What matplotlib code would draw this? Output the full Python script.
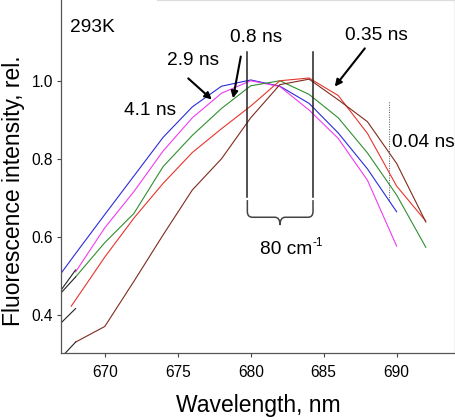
import matplotlib
matplotlib.use("Agg")
import matplotlib.pyplot as plt
from matplotlib.path import Path
from matplotlib.patches import PathPatch

plt.rcParams['font.family'] = ['Liberation Sans', 'DejaVu Sans']

# ---- data ----
wl_blue = [667, 668, 670, 672, 674, 676, 678, 680, 682, 684, 686, 688, 690]
i_blue = [0.506, 0.557, 0.657, 0.756, 0.855, 0.933, 0.986, 1.002, 0.986, 0.942, 0.866, 0.774, 0.664]

wl_mag = [668, 670, 672, 674, 676, 678, 680, 682, 684, 686, 688, 690]
i_mag = [0.510, 0.623, 0.716, 0.820, 0.905, 0.968, 1.000, 0.985, 0.925, 0.852, 0.745, 0.576]

wl_green = [668, 670, 672, 674, 676, 678, 680, 682, 684, 686, 688, 690, 692]
i_green = [0.497, 0.585, 0.660, 0.780, 0.860, 0.929, 0.987, 1.000, 0.965, 0.905, 0.815, 0.707, 0.573]

wl_red = [667.7, 669, 670, 672, 674, 676, 678, 680, 682, 684, 686, 688, 690, 692]
i_red = [0.422, 0.493, 0.548, 0.648, 0.737, 0.816, 0.877, 0.935, 1.000, 1.007, 0.962, 0.865, 0.730, 0.640]

wl_brown = [668, 670, 672, 674, 676, 678, 680, 682, 684, 686, 688, 690, 692]
i_brown = [0.330, 0.370, 0.486, 0.605, 0.720, 0.800, 0.905, 0.990, 1.004, 0.951, 0.895, 0.788, 0.638]

# short black leading segments at the left edge
lead_x = [[667, 668], [667, 668], [667, 668], [667, 668]]
lead_y = [[0.463, 0.515], [0.456, 0.497], [0.379, 0.416], [0.290, 0.330]]

series = [
    (wl_blue, i_blue, '#2b2bd9'),
    (wl_mag, i_mag, '#f03cf0'),
    (wl_green, i_green, '#2f8f2f'),
    (wl_red, i_red, '#e5352b'),
    (wl_brown, i_brown, '#7f2a1e'),
]

x_ticks = [670, 675, 680, 685, 690]
y_ticks = [0.4, 0.6, 0.8, 1.0]
y_ticklabels = ['0.4', '0.6', '0.8', '1.0']

fig = plt.figure(figsize=(4.56, 4.20), dpi=100)
ax = fig.add_axes([61/456, 1-353/420, 394/456, 353/420])

for x, y, c in series:
    ax.plot(x, y, color=c, lw=0.8)
for x, y in zip(lead_x, lead_y):
    ax.plot(x, y, color='#222222', lw=0.8)

ax.set_xlim(667, 694)
ax.set_ylim(0.302, 1.207)
ax.set_xticks(x_ticks)
ax.set_yticks(y_ticks)
ax.set_yticklabels(y_ticklabels)
ax.tick_params(axis='both', labelsize=11.2, length=3, width=0.8, color='#444444')
ax.tick_params(axis='x', pad=5.5)
ax.tick_params(axis='y', pad=2.5)

ax.spines['left'].set_color('#555555')
ax.spines['bottom'].set_color('#555555')
ax.spines['right'].set_color('#999999')
ax.spines['top'].set_color('#dddddd')
ax.spines['top'].set_bounds(673.56, 694)
for s in ax.spines.values():
    s.set_linewidth(0.9)

ax.set_xlabel('Wavelength, nm', fontsize=16.5, labelpad=10)
fig.text(14/456, 1-191/420, 'Fluorescence intensity, rel.', rotation=90,
         ha='center', va='center', fontsize=16.5)

# annotations
fs = 13.8
ax.text(667.62, 1.125, '293K', fontsize=fs, ha='left', va='baseline')
ax.text(674.24, 1.040, '2.9 ns', fontsize=fs, ha='left', va='baseline')
ax.text(671.32, 0.912, '4.1 ns', fontsize=fs, ha='left', va='baseline')
ax.text(678.56, 1.100, '0.8 ns', fontsize=fs, ha='left', va='baseline')
ax.text(686.49, 1.104, '0.35 ns', fontsize=fs, ha='left', va='baseline')
ax.text(689.69, 0.831, '0.04 ns', fontsize=fs, ha='left', va='baseline')
ax.text(680.64, 0.557, '80 cm', fontsize=fs, ha='left', va='baseline')
ax.text(684.25, 0.576, '-1', fontsize=8.5, ha='left', va='baseline')

arrow = dict(arrowstyle='-|>', color='black', lw=1.5, mutation_scale=10,
             shrinkA=0, shrinkB=0)
ax.annotate('', xy=(677.33, 0.952), xytext=(675.72, 1.006), arrowprops=arrow)
ax.annotate('', xy=(678.79, 0.955), xytext=(679.32, 1.062), arrowprops=arrow)
ax.annotate('', xy=(685.76, 0.985), xytext=(687.82, 1.083), arrowprops=arrow)

# vertical marker lines
ax.plot([679.77, 679.77], [0.702, 1.074], color='#222222', lw=1.1)
ax.plot([684.27, 684.27], [0.702, 1.074], color='#222222', lw=1.1)
ax.plot([689.48, 689.48], [0.694, 0.949], color='#555555', lw=0.7, ls=(0, (1, 1.5)))

# curly bracket
x0, x1, xm = 679.77, 684.27, 682.01
yt, yh, ytip = 0.694, 0.650, 0.630
rx, ry = 0.35, 0.015
verts = [(x0, yt), (x0, yh + ry), (x0, yh), (x0 + rx, yh), (xm - rx, yh), (xm, yh), (xm, ytip),
         (xm, yh), (xm + rx, yh), (x1 - rx, yh), (x1, yh), (x1, yh + ry), (x1, yt)]
codes = [Path.MOVETO, Path.LINETO, Path.CURVE3, Path.CURVE3, Path.LINETO, Path.CURVE3, Path.CURVE3,
         Path.CURVE3, Path.CURVE3, Path.LINETO, Path.CURVE3, Path.CURVE3, Path.LINETO]
ax.add_patch(PathPatch(Path(verts, codes), fill=False, edgecolor='#444444', lw=1.1))

fig.savefig('out.png', dpi=100)
